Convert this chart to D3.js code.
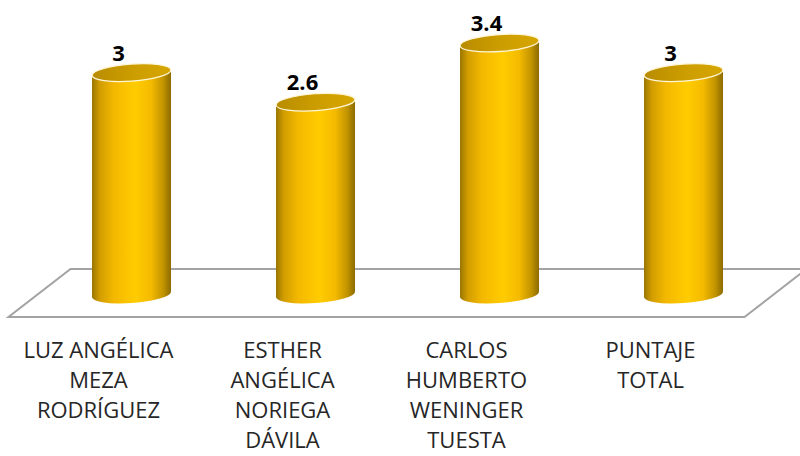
<!DOCTYPE html>
<html>
<head>
<meta charset="utf-8">
<script src="https://cdn.jsdelivr.net/npm/d3@7"></script>
<style>
  body { margin: 0; background: #fff; }
  svg { display: block; }
</style>
</head>
<body>
<div id="chart"></div>
<script>
// Data
const categories = [
  "LUZ ANGÉLICA\nMEZA\nRODRÍGUEZ",
  "ESTHER\nANGÉLICA\nNORIEGA\nDÁVILA",
  "CARLOS\nHUMBERTO\nWENINGER\nTUESTA",
  "PUNTAJE\nTOTAL"
];
const scores = [3, 2.6, 3.4, 3];
const valueLabels = ["3", "2.6", "3.4", "3"];

const width = 800;
const height = 456;

// Floor geometry (a skewed plane seen from above)
const floorY = 293;        // middle line of the floor
const depthX = 31;         // half depth, horizontal shift
const depthY = 24;         // half depth, vertical shift

const svg = d3.select("#chart")
  .append("svg")
  .attr("width", width)
  .attr("height", height);

const x = d3.scaleBand()
  .domain(d3.range(categories.length))
  .range([39.5, 775.5])
  .paddingInner(0)
  .paddingOuter(0);

const y = d3.scaleLinear()
  .domain([0, 3.4])
  .range([294.5, 43]);

const rx = 39.5;
const ry = 8.5;
const tilt = -4; // ellipse tilt in degrees
const tOff = rx * Math.sin((-tilt * Math.PI) / 180);

// Gradients
const defs = svg.append("defs");
const sideGrad = defs.append("linearGradient")
  .attr("id", "cylSide")
  .attr("x1", "0%").attr("x2", "100%")
  .attr("y1", "0%").attr("y2", "0%");
[
  [0, "#9a7600"],
  [0.1, "#d29e00"],
  [0.28, "#f4b800"],
  [0.55, "#ffcc00"],
  [0.75, "#f3ba00"],
  [0.9, "#c29400"],
  [1, "#8c6b00"]
].forEach(([o, c]) => sideGrad.append("stop").attr("offset", o).attr("stop-color", c));

const capGrad = defs.append("linearGradient")
  .attr("id", "cylTop")
  .attr("x1", "0%").attr("x2", "100%")
  .attr("y1", "0%").attr("y2", "0%");
[
  [0, "#b88c00"],
  [0.5, "#cc9d00"],
  [1, "#d6a600"]
].forEach(([o, c]) => capGrad.append("stop").attr("offset", o).attr("stop-color", c));

// Floor
const x0 = x.range()[0];
const x1 = x.range()[1];
const floorPts = [
  [x0 + depthX, floorY - depthY],
  [x1 + depthX, floorY - depthY],
  [x1 - depthX, floorY + depthY],
  [x0 - depthX, floorY + depthY]
];
svg.append("path")
  .attr("d", d3.line()(floorPts) + "Z")
  .attr("fill", "#fff")
  .attr("stroke", "#a3a3a3")
  .attr("stroke-width", 2)
  .attr("stroke-linejoin", "miter");

// Cylinders
const bars = svg.selectAll(".bar")
  .data(scores)
  .enter()
  .append("g")
  .attr("class", "bar");

bars.append("path")
  .attr("d", (d, i) => {
    const cx = x(i) + x.bandwidth() / 2;
    const yt = y(d);
    const yb = y(0);
    return `M ${cx - rx},${yt + tOff}
      L ${cx - rx},${yb + tOff}
      A ${rx},${ry} ${tilt} 0,0 ${cx + rx},${yb - tOff}
      L ${cx + rx},${yt - tOff} Z`;
  })
  .attr("fill", "url(#cylSide)");

bars.append("ellipse")
  .attr("cx", (d, i) => x(i) + x.bandwidth() / 2)
  .attr("cy", (d) => y(d))
  .attr("rx", rx)
  .attr("ry", ry)
  .attr("transform", (d, i) => `rotate(${tilt} ${x(i) + x.bandwidth() / 2} ${y(d)})`)
  .attr("fill", "url(#cylTop)")
  .attr("stroke", "#fff6d8")
  .attr("stroke-width", 1.3);

// Value labels
svg.selectAll(".value-label")
  .data(scores)
  .enter()
  .append("text")
  .attr("class", "value-label")
  .attr("x", (d, i) => x(i) + x.bandwidth() / 2 - 13)
  .attr("y", (d) => y(d) - 12)
  .attr("text-anchor", "middle")
  .style("font-family", "'Open Sans', sans-serif")
  .style("font-weight", "bold")
  .style("font-size", "22px")
  .style("fill", "#000")
  .text((d, i) => valueLabels[i]);

// Category labels
const cat = svg.selectAll(".cat-label")
  .data(categories)
  .enter()
  .append("text")
  .attr("class", "cat-label")
  .attr("text-anchor", "middle")
  .style("font-family", "'Open Sans', sans-serif")
  .style("font-size", "22px")
  .style("fill", "#262626");

cat.selectAll("tspan")
  .data((d, i) => d.split("\n").map((t) => ({ t, i })))
  .enter()
  .append("tspan")
  .attr("x", (d) => x(d.i) + x.bandwidth() / 2 - 33)
  .attr("y", (d, j) => 358 + j * 30)
  .text((d) => d.t);
</script>
</body>
</html>
